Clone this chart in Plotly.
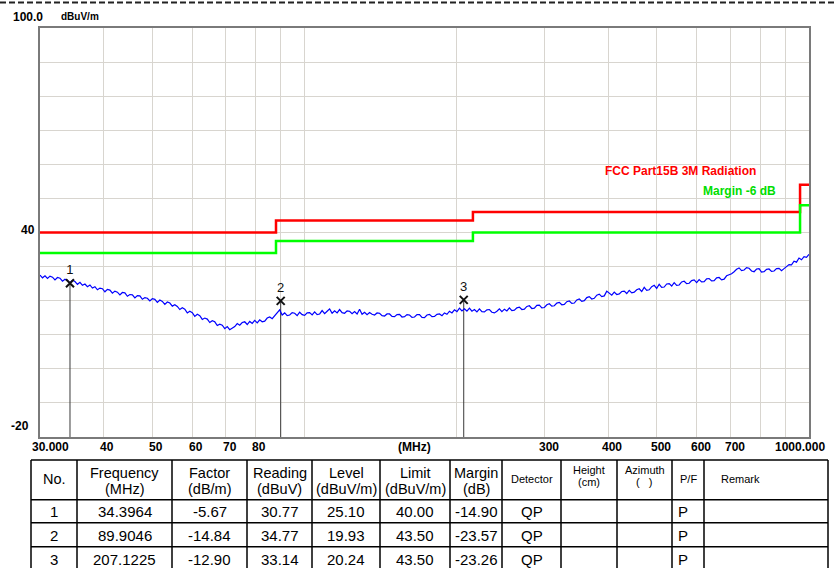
import numpy as np
import plotly.graph_objects as go

# ---------------- data ----------------
F_MIN, F_MAX = 30.0, 1000.0
Y_MIN, Y_MAX = -20.0, 100.0

trace_level = [
    27.5, 26.7, 27.3, 26.5, 27.2, 26.9, 26.1, 26.8, 26.6, 25.7,
    26.3, 25.9, 25.2, 26.0, 25.6, 24.8, 25.4, 24.5, 24.9, 24.1,
    24.6, 23.7, 24.1, 23.2, 23.7, 23.5, 22.6, 23.3, 23.1, 22.2,
    22.8, 22.5, 21.7, 22.4, 22.3, 21.3, 21.8, 21.7, 20.8, 21.5,
    21.4, 20.4, 20.9, 20.7, 19.9, 20.6, 20.4, 19.5, 20.2, 19.8,
    18.9, 19.6, 19.3, 18.4, 18.8, 18.3, 17.4, 17.9, 17.5, 16.4,
    16.9, 16.5, 15.4, 16.0, 15.6, 14.5, 14.9, 14.6, 13.6, 14.1,
    13.8, 12.7, 13.1, 12.8, 11.8, 12.4, 11.5, 12.0, 12.4, 13.3,
    12.8, 13.6, 13.8, 13.0, 13.9, 13.3, 14.2, 13.5, 14.4, 13.8,
    14.0, 14.9, 15.2, 14.7, 15.6, 16.4, 17.3, 15.8, 16.4, 15.6,
    15.8, 16.5, 16.3, 15.6, 16.6, 15.9, 15.7, 16.4, 16.5, 15.8,
    16.7, 15.9, 16.1, 17.1, 16.2, 16.9, 17.6, 16.3, 17.0, 16.4,
    17.4, 16.5, 16.3, 17.0, 16.9, 16.2, 16.8, 16.1, 17.5, 16.0,
    16.6, 15.9, 16.5, 16.0, 15.8, 16.4, 16.3, 15.6, 15.5, 16.1,
    16.1, 15.4, 15.3, 15.9, 16.0, 15.2, 15.3, 15.9, 15.8, 15.1,
    15.2, 15.9, 15.9, 15.1, 15.0, 15.8, 16.0, 15.3, 15.4, 16.0,
    16.1, 15.6, 16.4, 16.0, 16.9, 16.4, 17.3, 16.8, 17.8, 17.0,
    17.6, 16.9, 17.8, 16.9, 17.4, 16.7, 17.6, 16.8, 16.7, 17.3,
    17.4, 16.6, 16.4, 16.9, 17.6, 16.8, 17.5, 17.0, 17.9, 17.1,
    17.2, 17.9, 18.1, 17.4, 17.5, 18.3, 18.5, 17.7, 17.8, 18.6,
    18.7, 17.9, 18.0, 18.8, 19.1, 18.4, 18.5, 19.3, 19.5, 18.8,
    18.9, 19.7, 19.9, 19.2, 19.3, 20.2, 20.5, 19.8, 20.0, 20.9,
    21.2, 20.5, 20.7, 21.6, 21.9, 21.2, 21.4, 22.8, 22.3, 21.6,
    22.5, 21.8, 22.0, 22.7, 22.8, 22.1, 23.0, 22.3, 22.5, 23.2,
    23.5, 22.7, 23.9, 23.0, 23.2, 24.1, 24.5, 23.6, 24.8, 23.9,
    24.0, 24.9, 25.0, 24.3, 25.3, 24.5, 24.6, 25.5, 25.7, 25.0,
    25.1, 25.9, 26.1, 25.3, 26.2, 25.5, 25.6, 26.4, 26.5, 25.8,
    25.9, 26.7, 26.8, 26.1, 26.3, 27.3, 27.6, 27.9, 28.5, 29.2,
    29.6, 28.8, 29.0, 29.7, 29.5, 28.7, 28.5, 29.3, 29.4, 28.4,
    28.5, 29.2, 29.3, 28.6, 28.7, 29.4, 29.5, 28.8, 29.4, 30.1,
    30.6, 30.5, 31.6, 31.3, 32.5, 32.0, 32.9, 32.7, 33.6,
]
trace_freq = np.logspace(np.log10(F_MIN), np.log10(F_MAX), len(trace_level))

limit_freq = [30, 88, 216, 960, 1000]
limit_level = [40, 43.5, 46, 54, 54]
margin_level = [34, 37.5, 40, 48, 48]
limit_name = "FCC Part15B 3M Radiation"
margin_name = "Margin -6 dB"

marker_no = ["1", "2", "3"]
marker_freq = [34.3964, 89.9046, 207.1225]
marker_level = [25.10, 19.93, 20.24]

grid_freq = [40, 50, 60, 70, 80, 90, 100, 200, 300, 400, 500, 600, 700, 800, 900]
grid_level = [-10, 0, 10, 20, 30, 40, 50, 60, 70, 80, 90]
xlabel_freq = [30, 40, 50, 60, 70, 80, 300, 400, 500, 600, 700, 1000]
xlabel_text = ["30.000", "40", "50", "60", "70", "80", "300", "400", "500", "600", "700", "1000.000"]

table_header = [
    ("No.", ""), ("Frequency", "(MHz)"), ("Factor", "(dB/m)"), ("Reading", "(dBuV)"),
    ("Level", "(dBuV/m)"), ("Limit", "(dBuV/m)"), ("Margin", "(dB)"), ("Detector", ""),
    ("Height", "(cm)"), ("Azimuth", "(   )"), ("P/F", ""), ("Remark", ""),
]
table_rows = [
    ["1", "34.3964", "-5.67", "30.77", "25.10", "40.00", "-14.90", "QP", "", "", "P", ""],
    ["2", "89.9046", "-14.84", "34.77", "19.93", "43.50", "-23.57", "QP", "", "", "P", ""],
    ["3", "207.1225", "-12.90", "33.14", "20.24", "43.50", "-23.26", "QP", "", "", "P", ""],
]

# ---------------- layout geometry ----------------
W, H = 834, 568
L, R, T, B = 40, 25, 28, 131
PW = W - L - R
PH = H - T - B
FONT = "Liberation Sans, Arial, sans-serif"


def px(x):
    return (x - L) / PW


def py(y):
    return (H - B - y) / PH


fig = go.Figure()

# marker drop lines
for f, lv in zip(marker_freq, marker_level):
    fig.add_trace(go.Scatter(x=[f, f], y=[lv, Y_MIN], mode="lines",
                             line=dict(color="#3a3a3a", width=1), hoverinfo="skip"))

fig.add_trace(go.Scatter(x=trace_freq, y=trace_level, mode="lines",
                         line=dict(color="#0000ff", width=1.2)))
fig.add_trace(go.Scatter(x=limit_freq, y=limit_level, mode="lines",
                         line=dict(color="#ff0000", width=2.5, shape="hv")))
fig.add_trace(go.Scatter(x=limit_freq, y=margin_level, mode="lines",
                         line=dict(color="#00ff00", width=2.5, shape="hv")))
fig.add_trace(go.Scatter(x=marker_freq, y=marker_level, mode="markers+text",
                         text=marker_no, textposition="top center",
                         textfont=dict(family=FONT, size=13, color="#111111"),
                         marker=dict(symbol="x-thin", size=8,
                                     line=dict(color="#111111", width=2))))

annotations = []


def ann(text, x, y, size=12, color="black", bold=False, xanchor="center", **kw):
    t = f"<b>{text}</b>" if bold else text
    d = dict(text=t, x=x, y=y, xref="paper", yref="paper", showarrow=False,
             xanchor=xanchor, yanchor="middle",
             font=dict(family=FONT, size=size, color=color))
    d.update(kw)
    annotations.append(d)


# axis texts
ann("100.0", px(28), py(16.5), size=12, bold=True)
ann("dBuV/m", px(80), py(16.5), size=10, bold=True)
ann("40", px(37), py(229.5), size=12, bold=True, xanchor="right")
ann("-20", px(31), py(426), size=12, bold=True, xanchor="right")
for f, t in zip(xlabel_freq, xlabel_text):
    if t == "30.000":
        xa, xs = "left", -10
    elif t == "1000.000":
        xa, xs = "right", 18
    else:
        xa, xs = "center", 4
    annotations.append(dict(text=f"<b>{t}</b>", x=np.log10(f), xref="x",
                            y=py(447.5), yref="paper", showarrow=False,
                            xanchor=xa, xshift=xs, yanchor="middle",
                            font=dict(family=FONT, size=12, color="black")))
ann("(MHz)", px(414), py(447.5), size=12, bold=True)

# limit labels
ann(limit_name, px(603), py(171), size=12, bold=True, color="#ff0000", xanchor="left")
ann(margin_name, px(701), py(191), size=12, bold=True, color="#00dd00", xanchor="left")

# ---------------- table ----------------
col_edges = [31, 77, 172, 247, 312, 380, 450, 502, 561, 617, 672, 704, 828]
row_edges = [460, 499.7, 522.7, 546.7]
row_centers = [511.5, 535.5, 559.5]
small_cols = {7, 8, 9, 10, 11}

shapes = []
line_style = dict(color="black", width=1.5)
for ye in row_edges:
    shapes.append(dict(type="line", xref="paper", yref="paper",
                       x0=px(col_edges[0]), x1=px(col_edges[-1]),
                       y0=py(ye), y1=py(ye), line=line_style))
for xe in col_edges:
    shapes.append(dict(type="line", xref="paper", yref="paper",
                       x0=px(xe), x1=px(xe), y0=py(row_edges[0]), y1=py(H + 2),
                       line=line_style))

for ci, (h1, h2) in enumerate(table_header):
    cx = (col_edges[ci] + col_edges[ci + 1]) / 2
    if ci in small_cols:
        size, y1, y2 = 11, 470.5, 482
    else:
        size, y1, y2 = 14.5, 472.5, 489
    if ci == 11:
        ann(h1, px(719), py(479), size=size, xanchor="left")
        continue
    if h2:
        ann(h1, px(cx), py(y1), size=size)
        ann(h2, px(cx), py(y2), size=size)
    else:
        ann(h1, px(cx), py(479), size=size)

for ri, row in enumerate(table_rows):
    for ci, val in enumerate(row):
        if not val:
            continue
        cx = (col_edges[ci] + col_edges[ci + 1]) / 2
        if ci == 10:
            cx -= 5
        ann(val, px(cx), py(row_centers[ri]), size=15)

# top dashed rule
shapes.append(dict(type="line", xref="paper", yref="paper",
                   x0=px(0), x1=px(W), y0=py(2.5), y1=py(2.5),
                   line=dict(color="#222222", width=2, dash="6px,3px")))

fig.update_layout(
    width=W, height=H,
    margin=dict(l=L, r=R, t=T, b=B, pad=0),
    paper_bgcolor="white", plot_bgcolor="white",
    showlegend=False,
    annotations=annotations,
    shapes=shapes,
    xaxis=dict(type="log", range=[np.log10(F_MIN), np.log10(F_MAX)],
               tickvals=grid_freq, showticklabels=False, ticks="",
               showgrid=True, gridcolor="#d8d5cf", gridwidth=1.2,
               showline=True, mirror=True, linecolor="#7a7a7a", linewidth=2,
               zeroline=False, fixedrange=True),
    yaxis=dict(range=[Y_MIN, Y_MAX], tickvals=grid_level, showticklabels=False,
               ticks="", showgrid=True, gridcolor="#d8d5cf", gridwidth=1.2,
               showline=True, mirror=True, linecolor="#7a7a7a", linewidth=2,
               zeroline=False, fixedrange=True),
)

fig.write_html("out.html",
               config={"displayModeBar": False},
               post_script="document.body.style.margin='0px';document.body.style.padding='0px';")
